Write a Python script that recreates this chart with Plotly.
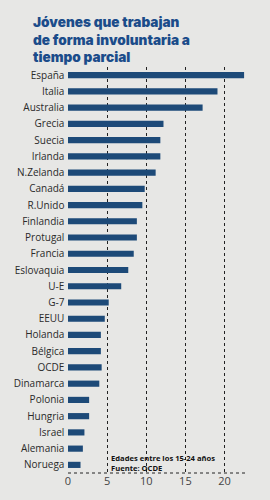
import plotly.graph_objects as go

countries = ["España", "Italia", "Australia", "Grecia", "Suecia", "Irlanda", "N.Zelanda",
             "Canadá", "R.Unido", "Finlandia", "Protugal", "Francia", "Eslovaquia", "U-E",
             "G-7", "EEUU", "Holanda", "Bélgica", "OCDE", "Dinamarca", "Polonia", "Hungria",
             "Israel", "Alemania", "Noruega"]
values = [22.5, 19.1, 17.2, 12.2, 11.8, 11.8, 11.2, 9.8, 9.5, 8.8, 8.8, 8.4, 7.7, 6.8,
          5.2, 4.7, 4.2, 4.2, 4.3, 4.0, 2.7, 2.7, 2.1, 1.9, 1.6]
tick_vals = [0, 5, 10, 15, 20]

title_lines = ["Jóvenes que trabajan", "de forma involuntaria a", "tiempo parcial"]
note_lines = ["Edades entre los 15-24 años", "Fuente: OCDE"]

fig = go.Figure(go.Bar(
    x=values, y=countries, orientation="h",
    marker=dict(color="#1d4a78", line=dict(width=0)),
))

fig.update_layout(
    width=270, height=500,
    margin=dict(l=68, r=22, t=67, b=22),
    paper_bgcolor="#e7e7e5", plot_bgcolor="#e7e7e5",
    bargap=0.62,
    showlegend=False,
    title=dict(
        text="<br>".join(title_lines),
        x=33 / 270, xanchor="left", xref="container",
        y=1 - 27 / 500, yanchor="top", yref="container",
        font=dict(family="Inter", size=13.6, color="#1b4c8a", weight=900),
    ),
    annotations=[dict(
        text="<br>".join(note_lines), xref="paper", yref="paper",
        x=0.23, y=0.025, xanchor="left", yanchor="middle", align="left",
        showarrow=False,
        font=dict(family="Open Sans", size=7.6, color="#111111", weight="bold"),
    )],
    shapes=[dict(type="line", xref="paper", yref="paper", x0=0, x1=1, y0=0, y1=0,
                 line=dict(color="#222222", width=1, dash="dot"))],
)
fig.update_xaxes(
    range=[0, 23], tickvals=tick_vals, showgrid=True, gridcolor="#222222",
    griddash="dot", gridwidth=1, zeroline=False, showline=False,
    tickfont=dict(family="Open Sans", size=11, color="#444444"),
    ticks="", ticklen=0,
)
fig.update_yaxes(
    autorange="reversed", showgrid=False, zeroline=False, showline=False,
    tickfont=dict(family="Open Sans", size=10, color="#2a2a2a"), ticks="",
    ticksuffix=" ",
)

fig.write_html("out.html")
